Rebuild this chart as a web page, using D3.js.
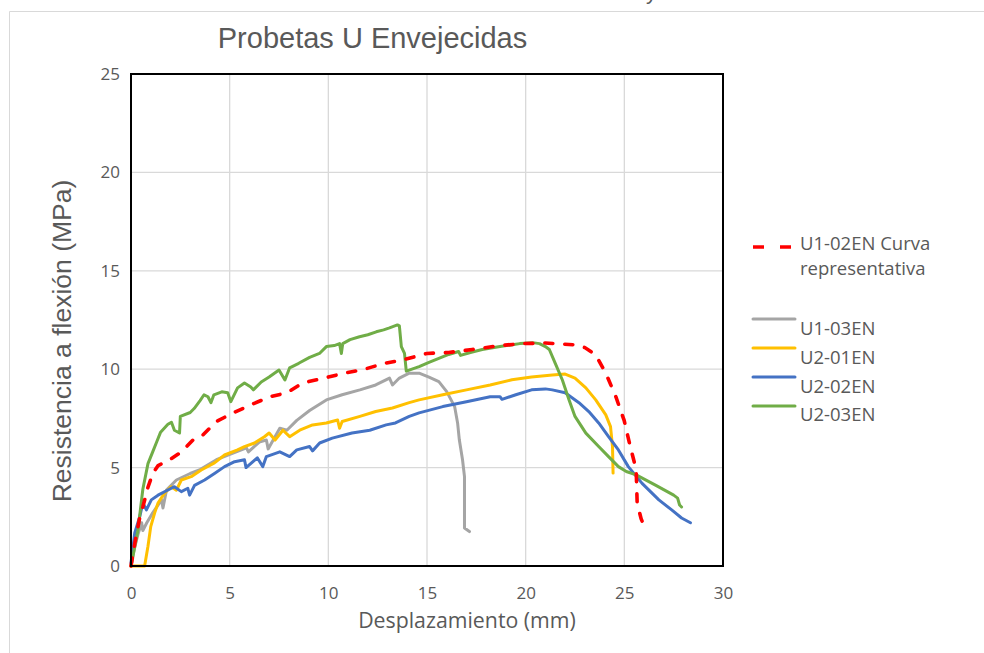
<!DOCTYPE html>
<html><head><meta charset="utf-8">
<script src="https://cdn.jsdelivr.net/npm/d3@7"></script>
<style>body{margin:0;background:#fff}svg{display:block}</style>
</head><body>
<svg id="chart" width="984" height="653"></svg>
<script>
const xTicks = [0,5,10,15,20,25,30];
const yTicks = [0,5,10,15,20,25];
const seriesNames = ["U1-03EN","U2-01EN","U2-02EN","U2-03EN","U1-02EN Curva representativa"];

const u1_03 = [[0,0],[0.15,0.8],[0.35,1.6],[0.54,2.2],[0.6,1.8],[0.8,2.2],[1.1,2.7],[1.55,3.36],[1.62,2.95],[1.8,3.86],[2.3,4.37],[3.0,4.7],[3.5,4.9],[4.33,5.4],[5.17,5.74],[5.85,6.0],[5.95,5.8],[6.5,6.3],[6.86,6.4],[6.95,5.95],[7.54,7.0],[7.9,6.9],[8.4,7.4],[9.05,7.9],[9.9,8.44],[10.7,8.7],[11.6,8.95],[12.4,9.2],[13.1,9.55],[13.25,9.2],[13.6,9.55],[14.1,9.8],[14.6,9.8],[15.1,9.6],[15.6,9.37],[16.0,8.86],[16.4,8.1],[16.55,7.27],[16.64,6.4],[16.8,5.4],[16.9,4.54],[16.9,3.0],[16.9,1.93],[17.15,1.75]];

const u2_01 = [[0,0],[0.69,0],[0.86,1.0],[1.0,2.0],[1.2,2.7],[1.37,3.2],[1.7,3.7],[2.04,4.03],[2.3,3.85],[2.55,4.37],[3.05,4.54],[3.56,4.88],[4.23,5.24],[4.74,5.64],[5.4,5.9],[5.75,6.07],[6.26,6.25],[6.76,6.57],[7.0,6.76],[7.3,6.4],[7.7,6.9],[8.04,6.57],[8.55,6.9],[9.2,7.17],[9.9,7.27],[10.47,7.42],[10.57,7.0],[10.7,7.34],[11.6,7.6],[12.4,7.85],[13.25,8.03],[14.1,8.3],[14.6,8.44],[15.8,8.7],[17.0,8.95],[18.2,9.2],[19.3,9.46],[20.3,9.6],[21.35,9.7],[22.0,9.75],[22.5,9.55],[23.05,9.05],[23.55,8.44],[24.06,7.68],[24.3,7.08],[24.4,6.07],[24.43,4.72]];

const u2_02 = [[0,0.15],[0.19,1.68],[0.44,2.5],[0.6,3.2],[0.78,2.85],[1.03,3.36],[1.37,3.6],[1.87,3.86],[2.2,4.03],[2.55,3.78],[2.88,3.95],[2.97,3.6],[3.22,4.1],[3.73,4.37],[4.23,4.7],[4.74,5.05],[5.25,5.3],[5.75,5.4],[5.83,5.0],[6.4,5.5],[6.68,5.05],[6.86,5.56],[7.54,5.8],[8.04,5.56],[8.4,5.9],[9.05,6.07],[9.2,5.85],[9.56,6.25],[10.2,6.5],[11.2,6.76],[12.1,6.9],[12.93,7.17],[13.4,7.27],[14.1,7.6],[14.6,7.78],[15.8,8.1],[17.0,8.35],[18.2,8.6],[18.7,8.6],[18.8,8.47],[19.5,8.7],[20.3,8.95],[21.0,9.0],[21.35,8.95],[22.0,8.8],[22.7,8.3],[23.2,7.85],[23.7,7.27],[24.2,6.57],[24.7,5.9],[25.2,5.05],[25.9,4.2],[26.75,3.36],[27.4,2.85],[27.9,2.44],[28.35,2.2]];

const u2_03 = [[0,0],[0.1,0.5],[0.35,1.8],[0.6,3.9],[0.86,5.2],[1.1,5.8],[1.3,6.3],[1.5,6.8],[1.87,7.2],[2.05,7.3],[2.2,6.9],[2.46,6.76],[2.5,7.6],[3.0,7.8],[3.2,8.0],[3.5,8.4],[3.7,8.7],[3.9,8.6],[4.05,8.3],[4.2,8.7],[4.6,8.85],[4.9,8.8],[5.06,8.35],[5.4,9.05],[5.75,9.3],[6.07,9.1],[6.2,8.95],[6.6,9.35],[7.0,9.6],[7.5,9.96],[7.8,9.45],[8.04,10.07],[8.5,10.3],[9.05,10.6],[9.55,10.8],[9.9,11.15],[10.3,11.2],[10.57,11.3],[10.66,10.8],[10.73,11.3],[11.1,11.5],[11.58,11.65],[12.0,11.75],[12.43,11.9],[12.8,12.0],[13.1,12.1],[13.5,12.25],[13.6,12.2],[13.7,11.15],[13.86,10.8],[13.95,9.9],[14.6,10.13],[15.1,10.35],[15.6,10.55],[16.1,10.75],[16.6,10.9],[16.7,10.7],[17.2,10.85],[17.8,11.0],[18.7,11.15],[19.7,11.3],[20.35,11.35],[20.7,11.3],[21.0,11.15],[21.2,11.0],[21.5,10.3],[21.86,9.45],[22.2,8.44],[22.5,7.6],[23.05,6.75],[23.7,6.07],[24.2,5.56],[24.7,5.05],[25.1,4.8],[25.6,4.63],[26.6,4.1],[27.5,3.6],[27.7,3.45],[27.8,3.1],[27.9,3.0]];

const u1_02 = [[0,0],[0.2,1.2],[0.45,2.5],[0.6,3.0],[0.86,4.0],[1.1,4.7],[1.37,5.1],[1.96,5.4],[2.56,5.8],[3.14,6.4],[3.58,6.6],[4.33,7.34],[5.17,7.78],[6.1,8.2],[7.03,8.6],[7.9,8.8],[8.7,9.3],[9.8,9.55],[10.8,9.8],[11.7,9.96],[12.85,10.3],[13.76,10.47],[15.0,10.8],[16.1,10.85],[17.3,11.0],[18.7,11.2],[19.8,11.3],[21.0,11.33],[22.46,11.24],[23.0,11.1],[23.55,10.73],[24.06,9.8],[24.57,8.6],[24.99,7.4],[25.3,6.07],[25.6,4.9],[25.65,3.2],[25.85,2.4],[26.1,1.8]];

const svg = d3.select("#chart");
const W = 984, H = 653;
const m = {left:131, right:723, top:74, bottom:566};
const x = d3.scaleLinear().domain([0,30]).range([m.left, m.right]);
const y = d3.scaleLinear().domain([0,25]).range([m.bottom, m.top]);

// outer chart border
svg.append("path").attr("d", `M9.5,${H} V11.5 H${W}`).attr("fill","none").attr("stroke","#D9D9D9").attr("stroke-width",1);
// cut-off text above (only its descender shows, as in the reference)
svg.append("text").attr("x",646).attr("y",-1).attr("font-family","Liberation Sans, Arial, sans-serif").attr("font-size",22).attr("fill","#595959").text("y");

// title
svg.append("text").attr("x",372.5).attr("y",48).attr("text-anchor","middle")
  .attr("font-family","Liberation Sans, Arial, sans-serif").attr("font-size",29).attr("fill","#595959")
  .text("Probetas U Envejecidas");

// gridlines
const g = svg.append("g");
g.selectAll("line.v").data(xTicks.filter(d=>d>0&&d<30)).enter().append("line")
  .attr("x1",d=>x(d)).attr("x2",d=>x(d)).attr("y1",m.top).attr("y2",m.bottom)
  .attr("stroke","#D9D9D9").attr("stroke-width",1.3);
g.selectAll("line.h").data(yTicks.filter(d=>d>0&&d<25)).enter().append("line")
  .attr("x1",m.left).attr("x2",m.right).attr("y1",d=>y(d)).attr("y2",d=>y(d))
  .attr("stroke","#D9D9D9").attr("stroke-width",1.3);

// axes via d3
const tickFont = "Open Sans, sans-serif";
const xAxis = svg.append("g").attr("transform",`translate(0,${m.bottom})`)
  .call(d3.axisBottom(x).tickValues(xTicks).tickSize(0).tickPadding(21));
const yAxis = svg.append("g").attr("transform",`translate(${m.left},0)`)
  .call(d3.axisLeft(y).tickValues(yTicks).tickSize(0).tickPadding(11));
[xAxis,yAxis].forEach(a=>{
  a.select(".domain").remove();
  a.selectAll("text").attr("font-family",tickFont).attr("font-size",17).attr("fill","#595959");
});

// series
const line = d3.line().x(d=>x(d[0])).y(d=>y(d[1])).curve(d3.curveLinear);
const series = [
  {data:u1_03, color:"#A5A5A5"},
  {data:u2_01, color:"#FFC000"},
  {data:u2_02, color:"#4472C4"},
  {data:u2_03, color:"#70AD47"},
];
const plot = svg.append("g");
series.forEach(s=>{
  plot.append("path").datum(s.data).attr("d",line).attr("fill","none")
    .attr("stroke",s.color).attr("stroke-width",3).attr("stroke-linejoin","round").attr("stroke-linecap","round");
});
plot.append("path").datum(u1_02).attr("d",line).attr("fill","none")
  .attr("stroke","#FF0000").attr("stroke-width",3.6).attr("stroke-dasharray","8,12").attr("stroke-linecap","round");

// frame
svg.append("rect").attr("x",m.left).attr("y",m.top).attr("width",m.right-m.left).attr("height",m.bottom-m.top)
  .attr("fill","none").attr("stroke","#000").attr("stroke-width",2);

// axis titles
svg.append("text").attr("transform",`translate(71,341) rotate(-90)`).attr("text-anchor","middle")
  .attr("font-family","Liberation Sans, Arial, sans-serif").attr("font-size",26.5).attr("fill","#595959")
  .text("Resistencia a flexión (MPa)");
svg.append("text").attr("x",467).attr("y",628).attr("text-anchor","middle")
  .attr("font-family",tickFont).attr("font-size",21.3).attr("fill","#595959")
  .text("Desplazamiento (mm)");

// legend
const lg = svg.append("g");
const legFont = 18.5;
lg.append("line").attr("x1",753).attr("x2",795).attr("y1",247).attr("y2",247)
  .attr("stroke","#FF0000").attr("stroke-width",3.6).attr("stroke-dasharray","11,16");
lg.append("text").attr("x",800).attr("y",250).attr("font-family",tickFont).attr("font-size",legFont).attr("fill","#595959").text("U1-02EN Curva");
lg.append("text").attr("x",800).attr("y",275).attr("font-family",tickFont).attr("font-size",legFont).attr("fill","#595959").text("representativa");
const legItems = [
  {name:seriesNames[0], color:"#A5A5A5", ly:319, ty:335},
  {name:seriesNames[1], color:"#FFC000", ly:348, ty:364},
  {name:seriesNames[2], color:"#4472C4", ly:377, ty:393},
  {name:seriesNames[3], color:"#70AD47", ly:406, ty:421},
];
legItems.forEach(it=>{
  lg.append("line").attr("x1",753).attr("x2",795).attr("y1",it.ly).attr("y2",it.ly)
    .attr("stroke",it.color).attr("stroke-width",3).attr("stroke-linecap","round");
  lg.append("text").attr("x",800).attr("y",it.ty).attr("font-family",tickFont).attr("font-size",legFont).attr("fill","#595959").text(it.name);
});
</script>
</body></html>
